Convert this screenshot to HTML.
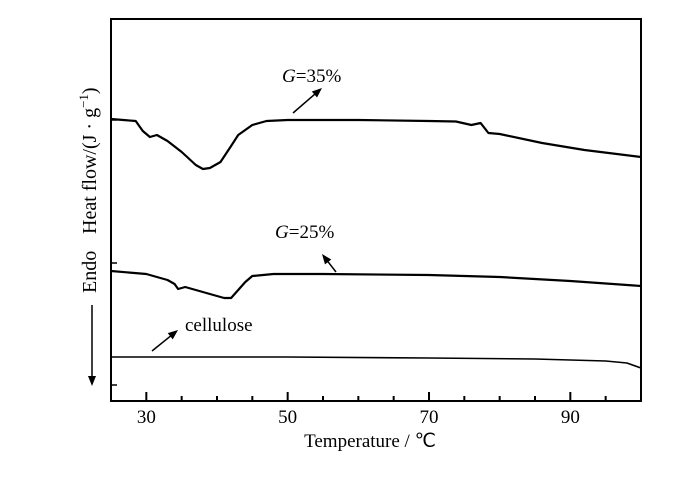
<!DOCTYPE html>
<html><head><meta charset="utf-8"><style>
body{margin:0;background:#fff}
svg text{font-family:"Liberation Serif",serif;fill:#000}
</style></head><body>
<svg width="700" height="481" viewBox="0 0 700 481" id="c"></svg>
<script>
const xG35=[25,28.5,29.5,30.5,31.5,33,35,37,38,39,40.5,42,43,45,47,50,60,70,73.8,76,77.3,78.4,80,86,92,100];
const yG35=[282,280,270,264,266,260,249,236,232,233,239,255,266,276,280,281,281,280,279.5,276,278,268,267,258,251,244];
const xG25=[25,30,33,34,34.5,35.5,37,39,41,42,43,44,45,48,55,70,80,90,100];
const yG25=[130,127,121,117,112,114,111,107,103,103,111,119,125,127,127,126,124,120,115];
const xCell=[25,50,70,85,95,98,100];
const yCell=[44,44,43,42,40,38,33];
const xTicks=[30,50,70,90];
const xMinor=[35,40,45,55,60,65,75,80,85,95];
const L=111,R=641,T=19,B=401;
const sx=v=>L+(v-25)/(100-25)*(R-L);
const sy=v=>B-v/382*(B-T);
const svg=document.getElementById('c');
const NS='http://www.w3.org/2000/svg';
function mk(t,a,txt){const e=document.createElementNS(NS,t);for(const k in a)e.setAttribute(k,a[k]);if(txt!==undefined)e.textContent=txt;svg.appendChild(e);return e;}
let e=mk('rect',{x:L,y:T,width:R-L,height:B-T,fill:'none',stroke:'#000','stroke-width':2});


xTicks.forEach(t=>{
 let l=mk('line',{x1:sx(t),x2:sx(t),y1:B,y2:B-9,stroke:'#000','stroke-width':2});
 
 
 let tx=mk('text',{x:sx(t),y:423,'text-anchor':'middle','font-size':19},String(t));
 
 
});
xMinor.forEach(t=>{
 let l=mk('line',{x1:sx(t),x2:sx(t),y1:B,y2:B-5,stroke:'#000','stroke-width':2});
 
 
});
[120,263,385].forEach(y=>{
 let l=mk('line',{x1:L,x2:L+6,y1:y,y2:y,stroke:'#000','stroke-width':1.5});
 
 
});
function line(xs,ys,w,name){
 const d=xs.map((x,i)=>(i?'L':'M')+sx(x).toFixed(1)+','+sy(ys[i]).toFixed(1)).join('');
 let p=mk('path',{d:d,fill:'none',stroke:'#000','stroke-width':w,'stroke-linejoin':'round'});
 
 
}
line(xG35,yG35,2.2,'series-g35');
line(xG25,yG25,2.2,'series-g25');
line(xCell,yCell,1.6,'series-cellulose');
function arrow(x1,y1,x2,y2,name){
 const a=Math.atan2(y2-y1,x2-x1),h=10,w=4;
 let l=mk('line',{x1:x1,y1:y1,x2:x2-Math.cos(a)*h*0.8,y2:y2-Math.sin(a)*h*0.8,stroke:'#000','stroke-width':1.5});
 
 
 const bx=x2-Math.cos(a)*h,by=y2-Math.sin(a)*h;
 let p=mk('polygon',{points:`${x2},${y2} ${bx-Math.sin(a)*w},${by+Math.cos(a)*w} ${bx+Math.sin(a)*w},${by-Math.cos(a)*w}`,fill:'#000'});
 
 
}
arrow(293,113,322,88,'g35-arrow');
arrow(336,272,322,254,'g25-arrow');
arrow(152,351,178,330,'cellulose-arrow');
arrow(92,305,92,386,'endo-arrow');
let t1=mk('text',{x:282,y:82,'font-size':19});
t1.innerHTML='<tspan font-style="italic">G</tspan>=35%';


let t2=mk('text',{x:275,y:238,'font-size':19});
t2.innerHTML='<tspan font-style="italic">G</tspan>=25%';


let t3=mk('text',{x:185,y:331,'font-size':19},'cellulose');


let t4=mk('text',{x:370,y:447,'text-anchor':'middle','font-size':19},'Temperature / ℃');


let t5=mk('text',{x:0,y:0,'font-size':20,transform:'translate(96,234) rotate(-90)'});
t5.innerHTML='Heat flow/(J · g<tspan dy="-8" font-size="13">−1</tspan><tspan dy="8">)</tspan>';


let t6=mk('text',{x:0,y:0,'font-size':20,transform:'translate(96,293) rotate(-90)'},'Endo');


</script>
</body></html>
